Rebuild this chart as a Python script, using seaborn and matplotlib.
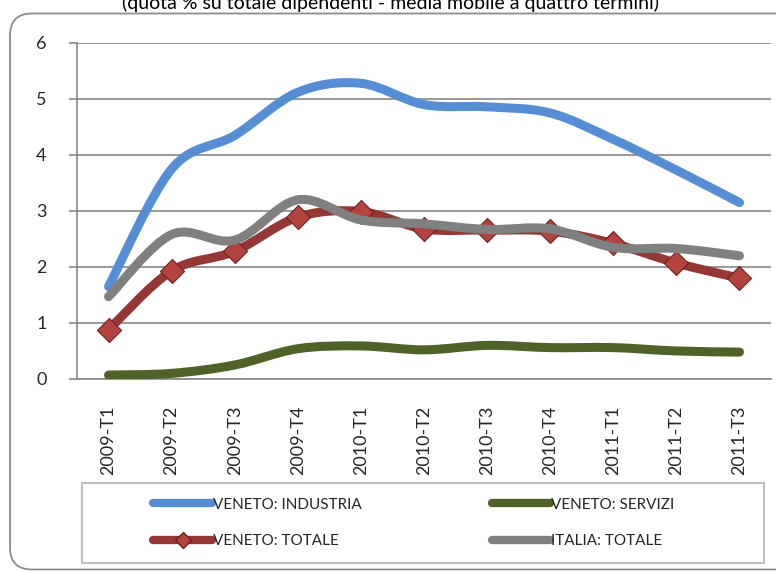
import numpy as np
import matplotlib
matplotlib.use('Agg')
import matplotlib.pyplot as plt
import seaborn as sns
from matplotlib.path import Path
from matplotlib.patches import PathPatch, FancyBboxPatch, Rectangle
from matplotlib.lines import Line2D

# --- dati ---
periodi = ['2009-T1', '2009-T2', '2009-T3', '2009-T4', '2010-T1', '2010-T2',
           '2010-T3', '2010-T4', '2011-T1', '2011-T2', '2011-T3']
veneto_industria = [1.65, 3.75, 4.35, 5.12, 5.28, 4.90, 4.86, 4.75, 4.28, 3.73, 3.15]
veneto_servizi = [0.07, 0.10, 0.25, 0.54, 0.59, 0.52, 0.60, 0.56, 0.56, 0.50, 0.48]
veneto_totale = [0.88, 1.93, 2.28, 2.89, 2.99, 2.68, 2.66, 2.64, 2.42, 2.07, 1.80]
italia_totale = [1.47, 2.58, 2.48, 3.20, 2.84, 2.77, 2.67, 2.68, 2.35, 2.33, 2.20]
etichette = ['VENETO: INDUSTRIA', 'VENETO: SERVIZI', 'VENETO: TOTALE', 'ITALIA: TOTALE']

sns.set_theme(style='white')
plt.rcParams['font.family'] = ['Lato', 'DejaVu Sans']

BLU = '#558ED5'
VERDE = '#4F6228'
ROSSO = '#953735'
GRIGIO = '#808080'
LINEA = '#878787'


def curva(x, y):
    # linea smussata tipo Excel (Bezier dai punti vicini)
    pts = np.column_stack([x, y]).astype(float)
    ext = np.vstack([pts[0], pts, pts[-1]])
    verts = [pts[0]]
    codes = [Path.MOVETO]
    for i in range(len(pts) - 1):
        p0, p1, p2, p3 = ext[i], ext[i + 1], ext[i + 2], ext[i + 3]
        verts += [p1 + (p2 - p0) / 6, p2 - (p3 - p1) / 6, p2]
        codes += [Path.CURVE4] * 3
    return Path(verts, codes)


fig = plt.figure(figsize=(7.76, 5.71), dpi=100)

# cornice esterna arrotondata
fig.patches.append(FancyBboxPatch((0.10, 0.015), 8.5, 5.56,
                                  boxstyle='round,pad=0,rounding_size=0.22',
                                  transform=fig.dpi_scale_trans, fill=False,
                                  edgecolor='#8C8C8C', linewidth=1.3))

ax = fig.add_axes([0.0992, 0.3363, 0.8944, 0.5884])
xs = np.arange(len(periodi))

serie = [(veneto_industria, BLU, 3), (veneto_servizi, VERDE, 3),
         (veneto_totale, ROSSO, 4), (italia_totale, GRIGIO, 6)]
for valori, colore, z in serie:
    ax.add_patch(PathPatch(curva(xs, valori), fill=False, edgecolor=colore,
                           linewidth=6.5, capstyle='round', joinstyle='round',
                           zorder=z))

sns.scatterplot(x=xs, y=veneto_totale, marker='D', s=150, color='#B3433F',
                edgecolor='#6B2220', linewidth=0.8, zorder=5, ax=ax, legend=False)

ax.set_xlim(-0.5, 10.5)
ax.set_ylim(0, 6)
ax.set_xticks(xs)
ax.set_xticklabels(periodi, rotation=90, fontsize=13)
ax.set_xticks(np.arange(-0.5, 11, 1), minor=True)
ax.set_yticks(range(7))
ax.tick_params(axis='x', which='major', length=0, pad=19)
ax.tick_params(axis='x', which='minor', length=6, width=1.2, color=LINEA, direction='out')
ax.tick_params(axis='y', length=6, width=1.2, color=LINEA, direction='out',
               pad=16, labelsize=13, left=True)
ax.set_xlabel('')
ax.set_ylabel('')
ax.yaxis.grid(True, color=LINEA, linewidth=1.2)
ax.set_axisbelow(True)
for lato in ['top', 'right']:
    ax.spines[lato].set_visible(False)
for lato in ['left', 'bottom']:
    ax.spines[lato].set_color(LINEA)
    ax.spines[lato].set_linewidth(1.2)

# titolo tagliato in alto come nell'originale
fig.text(0.503, 0.984, '(quota % su totale dipendenti - media mobile a quattro termini)',
         ha='center', va='baseline', fontsize=14, color='#000000')

# legenda
fig.patches.append(Rectangle((82 / 776, 1 - 563 / 571), (764 - 82) / 776, 80 / 571,
                             transform=fig.transFigure, fill=False,
                             edgecolor='#BFBFBF', linewidth=1.5))
maniglie = [
    Line2D([], [], color=BLU, lw=6, solid_capstyle='round'),
    Line2D([], [], color=ROSSO, lw=6, solid_capstyle='round', marker='D',
           markersize=8, markerfacecolor='#B3433F', markeredgecolor='#6B2220'),
    Line2D([], [], color=VERDE, lw=6, solid_capstyle='round'),
    Line2D([], [], color=GRIGIO, lw=6, solid_capstyle='round'),
]
fig.legend(maniglie, [etichette[0], etichette[2], etichette[1], etichette[3]],
           loc='center', bbox_to_anchor=(414 / 776, 1 - 523 / 571), ncol=2,
           frameon=False, fontsize=11, handlelength=3.8, handletextpad=0.1,
           columnspacing=8.5, labelspacing=1.5)

fig.savefig('out.png', dpi=100)
